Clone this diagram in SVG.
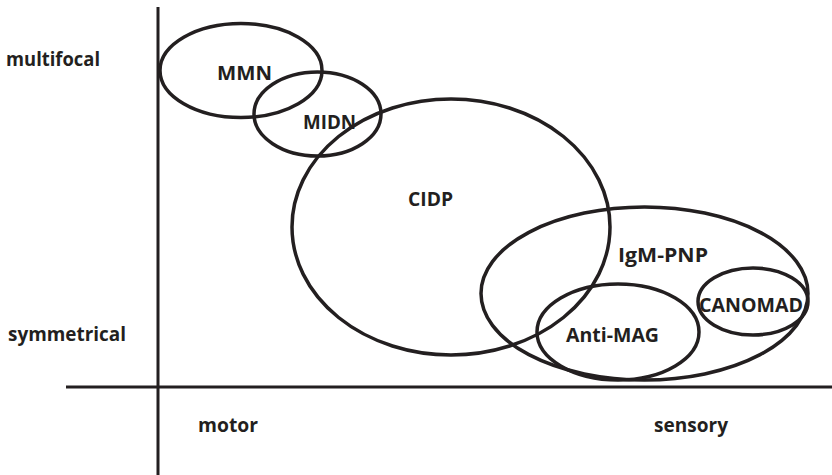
<svg xmlns="http://www.w3.org/2000/svg" width="832" height="475" viewBox="0 0 832 475">
<style>
.bg{fill:#ffffff}
.ax{stroke:#231f20;stroke-width:3;fill:none}
.el{stroke:#231f20;stroke-width:3.5;fill:none}
.t{font-family:"Open Sans","Liberation Sans",sans-serif;font-weight:bold;font-size:20px;fill:#231f20}
</style>
<rect class="bg" x="0" y="0" width="832" height="475"/>
<g id="axes">
<line class="ax" x1="158" y1="7" x2="158" y2="475"/>
<line class="ax" x1="66" y1="387" x2="832" y2="387"/>
</g>
<g id="axis-labels">
<text class="t" x="6" y="66" textLength="94" lengthAdjust="spacingAndGlyphs">multifocal</text>
<text class="t" x="8" y="341" textLength="118" lengthAdjust="spacingAndGlyphs">symmetrical</text>
<text class="t" x="198" y="432" textLength="60" lengthAdjust="spacingAndGlyphs">motor</text>
<text class="t" x="654" y="432" textLength="74" lengthAdjust="spacingAndGlyphs">sensory</text>
</g>
<g id="MMN">
<ellipse class="el" cx="241" cy="70.5" rx="81" ry="47"/>
<text class="t" x="217" y="80" textLength="55" lengthAdjust="spacingAndGlyphs">MMN</text>
</g>
<g id="MIDN">
<ellipse class="el" cx="317.5" cy="114" rx="63.5" ry="42"/>
<text class="t" x="303" y="129" textLength="53" lengthAdjust="spacingAndGlyphs">MIDN</text>
</g>
<g id="CIDP">
<ellipse class="el" cx="451" cy="227" rx="159" ry="128"/>
<text class="t" x="408" y="206" textLength="45" lengthAdjust="spacingAndGlyphs">CIDP</text>
</g>
<g id="IgM-PNP">
<ellipse class="el" cx="644.5" cy="293.5" rx="163.5" ry="86.5"/>
<text class="t" x="618" y="262" textLength="90" lengthAdjust="spacingAndGlyphs">IgM-PNP</text>
</g>
<g id="Anti-MAG">
<ellipse class="el" cx="618" cy="332" rx="81" ry="48"/>
<text class="t" x="566" y="342" textLength="93" lengthAdjust="spacingAndGlyphs">Anti-MAG</text>
</g>
<g id="CANOMAD">
<ellipse class="el" cx="753" cy="301.5" rx="55" ry="33.5"/>
<text class="t" x="699" y="312" textLength="104" lengthAdjust="spacingAndGlyphs">CANOMAD</text>
</g>
</svg>
